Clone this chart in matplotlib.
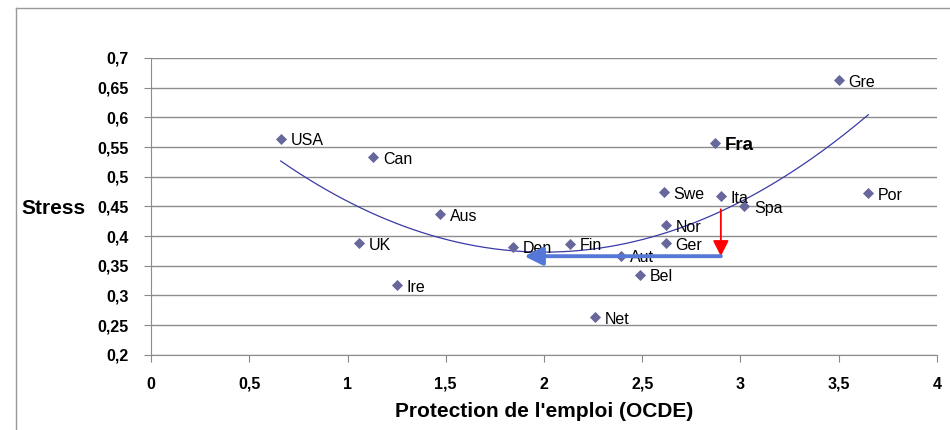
import numpy as np
import matplotlib.pyplot as plt
from matplotlib.lines import Line2D

plt.rcParams['font.family'] = ['Liberation Sans', 'DejaVu Sans']

# pays et valeurs
pays = ['USA', 'Can', 'Aus', 'UK', 'Ire', 'Gre', 'Fra', 'Swe', 'Ita', 'Spa',
        'Por', 'Nor', 'Ger', 'Den', 'Fin', 'Aut', 'Bel', 'Net']
protection = [0.66, 1.13, 1.47, 1.06, 1.25, 3.50, 2.87, 2.61, 2.90, 3.02,
              3.65, 2.62, 2.62, 1.84, 2.13, 2.39, 2.49, 2.26]
stress = [0.564, 0.533, 0.437, 0.388, 0.317, 0.663, 0.556, 0.474, 0.467, 0.450,
          0.472, 0.418, 0.388, 0.382, 0.387, 0.367, 0.335, 0.263]

xticks = [0, 0.5, 1, 1.5, 2, 2.5, 3, 3.5, 4]
xlabels = ['0', '0,5', '1', '1,5', '2', '2,5', '3', '3,5', '4']
yticks = [0.2, 0.25, 0.3, 0.35, 0.4, 0.45, 0.5, 0.55, 0.6, 0.65, 0.7]
ylabels = ['0,2', '0,25', '0,3', '0,35', '0,4', '0,45', '0,5', '0,55', '0,6', '0,65', '0,7']

# fleches (France -> baisse du stress, puis protection equivalente)
fleche_rouge = [(2.90, 0.445), (2.90, 0.366)]
fleche_bleue = [(2.90, 0.366), (1.90, 0.366)]

fig = plt.figure(figsize=(9.5, 4.3), dpi=100)
ax = fig.add_axes([151/950, 1-354.7/430, (937-151)/950, (354.7-58)/430])

# tendance polynomiale d'ordre 2
coef = np.polyfit(protection, stress, 2)
xs = np.linspace(min(protection), max(protection), 200)
ax.plot(xs, np.polyval(coef, xs), color='#3a3aa8', lw=0.9, zorder=2)

ax.scatter(protection, stress, marker='D', s=32, color='#67679c', zorder=3, linewidths=0)

for p, x, y in zip(pays, protection, stress):
    if p == 'Fra':
        ax.annotate(p, (x, y), xytext=(7, -1.5), textcoords='offset points',
                    va='center', fontsize=13.5, fontweight='bold')
    else:
        ax.annotate(p, (x, y), xytext=(7, -1.5), textcoords='offset points',
                    va='center', fontsize=11.5)

ax.annotate('', xy=fleche_rouge[1], xytext=fleche_rouge[0],
            arrowprops=dict(arrowstyle='-|>,head_length=0.95,head_width=0.48',
                            color='#ff0000', lw=1.3, shrinkA=0, shrinkB=0), zorder=4)
ax.annotate('', xy=fleche_bleue[1], xytext=fleche_bleue[0],
            arrowprops=dict(arrowstyle='-|>,head_length=1.1,head_width=0.55',
                            color='#5577d8', lw=2.8, shrinkA=0, shrinkB=0), zorder=4)

ax.set_xlim(0, 4)
ax.set_ylim(0.2, 0.7)
ax.set_xticks(xticks)
ax.set_xticklabels(xlabels, fontsize=11.5, fontweight='bold')
ax.set_yticks(yticks)
ax.set_yticklabels(ylabels, fontsize=11.5, fontweight='bold')
ax.tick_params(axis='both', color='#888888', length=5, pad=11)
ax.grid(axis='y', color='#8c8c8c', lw=1)
ax.set_axisbelow(True)
for s in ['top', 'right']:
    ax.spines[s].set_visible(False)
for s in ['left', 'bottom']:
    ax.spines[s].set_color('#8c8c8c')

ax.set_xlabel("Protection de l'emploi (OCDE)", fontsize=15, fontweight='bold', labelpad=7)
fig.text(21/950, 1-208/430, 'Stress', fontsize=15, fontweight='bold', va='center', ha='left')

# cadre du graphique
fig.add_artist(Line2D([15.5/950, 15.5/950], [0, 1-8/430], color='#999999', lw=1))
fig.add_artist(Line2D([15.5/950, 1], [1-8/430, 1-8/430], color='#999999', lw=1))

fig.savefig('out.png', dpi=100)
